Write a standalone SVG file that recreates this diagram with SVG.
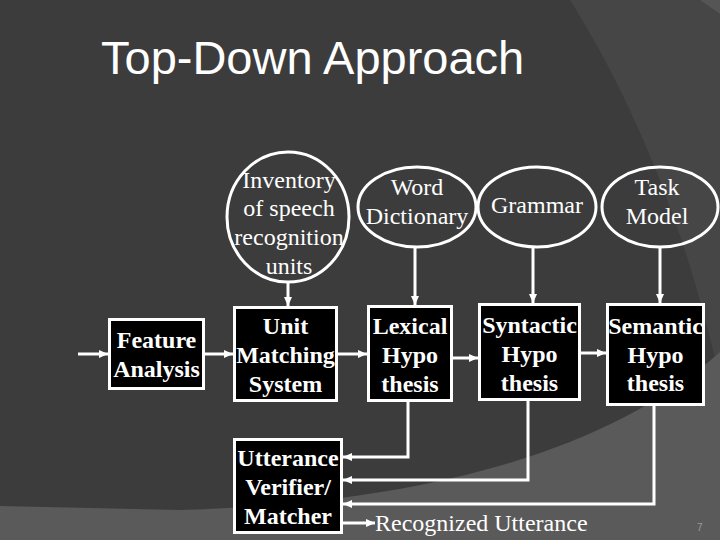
<svg xmlns="http://www.w3.org/2000/svg" width="720" height="540" viewBox="0 0 720 540">
<defs>
<marker id="ah" markerWidth="10" markerHeight="10" refX="9" refY="5" orient="auto" markerUnits="userSpaceOnUse"><path d="M0,1 L9,5 L0,9 Z" fill="#fff"/></marker>
<style>
.ell{fill:none;stroke:#fff;stroke-width:3}
.box{fill:#000;stroke:#fff;stroke-width:3}
.et{font-family:"Liberation Serif","Times New Roman",serif;font-size:24px;fill:#fff;text-anchor:middle}
.bt{font-family:"Liberation Serif","Times New Roman",serif;font-size:24px;font-weight:bold;fill:#fff;text-anchor:middle}
.con{fill:none;stroke:#fff;stroke-width:3}
</style>
</defs>
<rect x="0" y="0" width="720" height="540" fill="#3c3c3c"/>
<path d="M570,0 C620,80 680,200 720,380 L720,0 Z" fill="#464646"/>
<path d="M700,0 L720,0 L720,14 Z" fill="#555"/>
<path d="M0,506 L180,510 C400,504 600,460 720,352 L720,540 L0,540 Z" fill="#5a5a5a"/>
<text x="101" y="74" font-family="Liberation Sans, Arial, sans-serif" font-size="47" fill="#fff">Top-Down Approach</text>
<g id="inventory"><ellipse class="ell" cx="288" cy="217" rx="61" ry="65"/>
<text class="et" x="289" y="188">Inventory</text><text class="et" x="289" y="216">of speech</text><text class="et" x="289" y="245">recognition</text><text class="et" x="289" y="274">units</text></g>
<g id="word"><ellipse class="ell" cx="417" cy="207" rx="59" ry="40"/>
<text class="et" x="417" y="195">Word</text><text class="et" x="417" y="224">Dictionary</text></g>
<g id="grammar"><ellipse class="ell" cx="537" cy="207" rx="59" ry="40"/>
<text class="et" x="537" y="213">Grammar</text></g>
<g id="task"><ellipse class="ell" cx="660" cy="207" rx="58" ry="40"/>
<text class="et" x="657" y="195">Task</text><text class="et" x="657" y="224">Model</text></g>
<g id="feature"><rect class="box" x="109.5" y="319.5" width="94" height="69"/>
<text class="bt" x="156.5" y="348">Feature</text><text class="bt" x="156.5" y="377">Analysis</text></g>
<g id="unit"><rect class="box" x="234.5" y="307.5" width="102" height="93"/>
<text class="bt" x="285.5" y="334">Unit</text><text class="bt" x="285.5" y="363">Matching</text><text class="bt" x="285.5" y="392">System</text></g>
<g id="lexical"><rect class="box" x="368.5" y="306.5" width="83" height="94"/>
<text class="bt" x="410" y="334">Lexical</text><text class="bt" x="410" y="363">Hypo</text><text class="bt" x="410" y="392">thesis</text></g>
<g id="syntactic"><rect class="box" x="479.5" y="304.5" width="100" height="95"/>
<text class="bt" x="529.5" y="333">Syntactic</text><text class="bt" x="529.5" y="362">Hypo</text><text class="bt" x="529.5" y="391">thesis</text></g>
<g id="semantic"><rect class="box" x="607.5" y="304.5" width="96" height="100"/>
<text class="bt" x="655.5" y="334">Semantic</text><text class="bt" x="655.5" y="363">Hypo</text><text class="bt" x="655.5" y="391">thesis</text></g>
<g id="utterance"><rect class="box" x="234.5" y="439.5" width="107" height="93"/>
<text class="bt" x="288" y="466">Utterance</text><text class="bt" x="288" y="495">Verifier/</text><text class="bt" x="288" y="524">Matcher</text></g>
<g id="connectors">
<path class="con" d="M78,354 H108" marker-end="url(#ah)"/>
<path class="con" d="M205,354 H233" marker-end="url(#ah)"/>
<path class="con" d="M338,354 H367" marker-end="url(#ah)"/>
<path class="con" d="M453,358 H478" marker-end="url(#ah)"/>
<path class="con" d="M581,353 H606" marker-end="url(#ah)"/>
<path class="con" d="M288,282 V306" marker-end="url(#ah)"/>
<path class="con" d="M415,247 V305" marker-end="url(#ah)"/>
<path class="con" d="M533,247 V303" marker-end="url(#ah)"/>
<path class="con" d="M660,247 V303" marker-end="url(#ah)"/>
<path class="con" d="M408,402 V457 H343" marker-end="url(#ah)"/>
<path class="con" d="M528,401 V480 H343" marker-end="url(#ah)"/>
<path class="con" d="M654,405 V504 H343" marker-end="url(#ah)"/>
<path class="con" d="M343,523 H375" marker-end="url(#ah)"/>
</g>
<text x="375" y="531" font-family="Liberation Serif, Times New Roman, serif" font-size="24" fill="#fff">Recognized Utterance</text>
<text x="697" y="531" font-family="Liberation Sans, Arial, sans-serif" font-size="10" fill="#9a9a9a">7</text>
</svg>
